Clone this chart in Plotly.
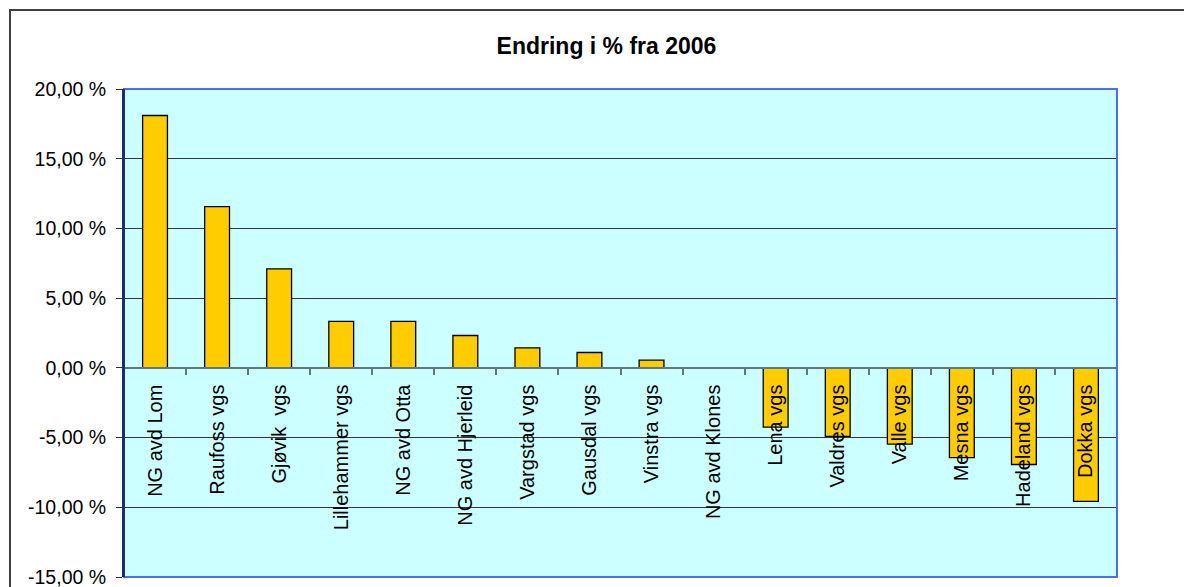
import plotly.graph_objects as go

# ------------------------------------------------------------
# Data
# ------------------------------------------------------------
SCHOOLS = [
    "NG avd Lom", "Raufoss vgs", "Gjøvik  vgs", "Lillehammer vgs",
    "NG avd Otta", "NG avd Hjerleid", "Vargstad vgs", "Gausdal vgs",
    "Vinstra vgs", "NG avd Klones", "Lena vgs", "Valdres vgs",
    "Valle vgs", "Mesna vgs", "Hadeland vgs", "Dokka vgs",
]
CHANGE_PCT = [
    18.1, 11.56, 7.1, 3.33, 3.33, 2.32, 1.43, 1.1,
    0.55, 0.0, -4.25, -4.91, -5.47, -6.44, -6.93, -9.58,
]
Y_TICKS = [-15, -10, -5, 0, 5, 10, 15, 20]
Y_TICK_TEXT = ["-15,00 %", "-10,00 %", "-5,00 %", "0,00 %",
               "5,00 %", "10,00 %", "15,00 %", "20,00 %"]
Y_RANGE = [-15, 20]

FONT = "Liberation Sans, Arial, sans-serif"

# siden har 8 px body-marg, så figuren gjøres tilsvarende mindre
W, H = 1184, 579
ML, MR, MT, MB = 116, 75, 81, 10
PW, PH = W - ML - MR, H - MT - MB

# ------------------------------------------------------------
# Figure
# ------------------------------------------------------------
fig = go.Figure()

fig.add_trace(go.Bar(
    x=SCHOOLS,
    y=CHANGE_PCT,
    marker=dict(color="#FFCC00", line=dict(color="#000000", width=1.3)),
    showlegend=False,
    hovertemplate="%{x}: %{y:.2f} %<extra></extra>",
))

# x-akse ligger på 0-linja
zero_pos = (0 - Y_RANGE[0]) / (Y_RANGE[1] - Y_RANGE[0])

fig.update_layout(
    width=W, height=H,
    margin=dict(l=ML, r=MR, t=MT, b=MB),
    paper_bgcolor="white",
    plot_bgcolor="#CCFFFF",
    bargap=0.6,
    font=dict(family=FONT, size=19, color="black"),
    title=dict(
        text="<b>Endring i % fra 2006</b>",
        x=598.5 / W, xanchor="center", xref="container",
        y=1 - 38 / H, yanchor="middle", yref="container",
        font=dict(family=FONT, size=23, color="black"),
    ),
    xaxis=dict(
        anchor="free", position=zero_pos, automargin=False,
        showline=True, linecolor="#607878", linewidth=1.5,
        ticks="outside", tickson="boundaries", ticklen=6,
        tickcolor="#607878", tickwidth=1.5,
        tickangle=-90, tickfont=dict(size=20),
        ticklabelstandoff=8,
        showgrid=False, zeroline=False,
    ),
    yaxis=dict(
        range=Y_RANGE, tickvals=Y_TICKS, ticktext=Y_TICK_TEXT,
        automargin=False,
        showgrid=True, gridcolor="#303838", gridwidth=1,
        zeroline=False,
        showline=True, linecolor="#1C2A80", linewidth=2,
        ticks="outside", ticklen=6, tickcolor="#303030",
        ticklabelstandoff=6, ticklabeloverflow="allow",
        tickfont=dict(size=19.5),
    ),
)

# Ramme rundt plottområdet
fig.add_shape(type="rect", xref="paper", yref="paper",
              x0=0, x1=1, y0=0, y1=1,
              line=dict(color="#4A6CFF", width=2), layer="above")
fig.add_shape(type="line", xref="paper", yref="paper",
              x0=0, x1=0, y0=0, y1=1,
              line=dict(color="#1C2A80", width=2), layer="above")

# Ytre ramme rundt hele diagrammet
fig.add_shape(type="rect", xref="paper", yref="paper",
              x0=(2 - ML) / PW, x1=(W + 10 - ML) / PW,
              y0=-0.1, y1=(H - MB - 2) / PH,
              line=dict(color="#404040", width=2), layer="above")

fig.write_html("out.html")
